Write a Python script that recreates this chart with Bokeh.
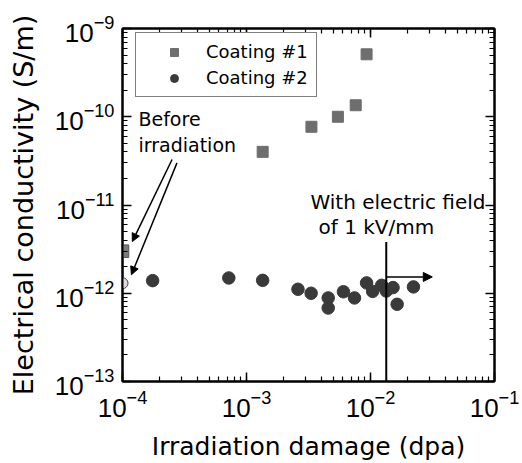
from bokeh.plotting import figure
from bokeh.models import LogAxis, Legend, LegendItem, Arrow, NormalHead, Label, LogTicker, Range1d
from bokeh.embed import file_html
from bokeh.resources import INLINE

# ---- data ----
c1_x = [1.35e-3, 3.34e-3, 5.46e-3, 7.6e-3, 9.3e-3]
c1_y = [4.0e-11, 7.7e-11, 1.0e-10, 1.35e-10, 5.1e-10]
c1_before_x = [1e-4]
c1_before_y = [3.0e-12]

c2_x = [1.75e-4, 7.2e-4, 1.35e-3, 2.6e-3, 3.32e-3, 4.56e-3, 4.56e-3, 6.05e-3,
        7.43e-3, 9.3e-3, 1.04e-2, 1.23e-2, 1.34e-2, 1.52e-2, 1.64e-2, 2.22e-2]
c2_y = [1.39e-12, 1.49e-12, 1.4e-12, 1.11e-12, 1.0e-12, 0.885e-12, 0.68e-12, 1.04e-12,
        0.885e-12, 1.31e-12, 1.05e-12, 1.23e-12, 1.06e-12, 1.16e-12, 0.75e-12, 1.18e-12]
c2_before_x = [1e-4]
c2_before_y = [1.3e-12]

field_x = 1.34e-2          # electric field applied from this dose on
field_line_y = [1e-13, 3.8e-12]
field_arrow_end_x = 3.15e-2
field_arrow_y = 1.53e-12

FONT = "DejaVu Sans"
TICKFONT = "Liberation Sans"

p = figure(width=522, height=463, x_axis_type="log", y_axis_type="log",
           x_range=Range1d(1e-4, 1e-1), y_range=Range1d(1e-13, 1e-9),
           output_backend="svg", toolbar_location=None,
           min_border_left=122, min_border_right=28, min_border_top=28, min_border_bottom=81)
p.grid.visible = False
p.outline_line_color = "black"
p.outline_line_width = 2
p.background_fill_color = "white"
p.border_fill_color = "white"

def style_axis(ax, show_labels=True):
    ax.axis_line_width = 2
    ax.axis_line_color = "black"
    ax.major_tick_in = 9
    ax.major_tick_out = 0
    ax.minor_tick_in = 5
    ax.minor_tick_out = 0
    ax.major_tick_line_width = 1.5
    ax.minor_tick_line_width = 1.2
    ax.major_tick_line_color = "black"
    ax.minor_tick_line_color = "black"
    ax.major_label_text_font = TICKFONT
    ax.major_label_text_font_size = "26px"
    ax.major_label_text_color = "black"
    if not show_labels:
        ax.major_label_text_font_size = "0px"
        ax.major_label_text_color = None
        ax.major_label_standoff = 0

for ax in p.xaxis:
    style_axis(ax)
    ax.axis_label = "Irradiation damage (dpa)"
    ax.axis_label_text_font = FONT
    ax.axis_label_text_font_size = "25px"
    ax.axis_label_text_font_style = "normal"
    ax.axis_label_text_color = "black"
    ax.major_label_standoff = 8
    ax.axis_label_standoff = 12
for ax in p.yaxis:
    style_axis(ax)
    ax.axis_label = "Electrical conductivity (S/m)"
    ax.axis_label_text_font = FONT
    ax.axis_label_text_font_size = "27px"
    ax.axis_label_text_font_style = "normal"
    ax.axis_label_text_color = "black"
    ax.major_label_standoff = 8
    ax.axis_label_standoff = 13

top = LogAxis(ticker=LogTicker(num_minor_ticks=10))
right = LogAxis(ticker=LogTicker(num_minor_ticks=10))
style_axis(top, False)
style_axis(right, False)
p.add_layout(top, "above")
p.add_layout(right, "right")

# ---- data marks ----
r1 = p.scatter(c1_x, c1_y, marker="square", size=11, fill_color="#6e6e6e", line_color="#6e6e6e")
r2 = p.scatter(c2_x, c2_y, marker="circle", size=12.5, fill_color="#3a3a3a", line_color="#3a3a3a")
p.scatter(c1_before_x, c1_before_y, marker="square", size=12.5, fill_color="#7c7c7c",
          line_color="#555555", line_width=1)
p.scatter(c2_before_x, c2_before_y, marker="circle", size=11, fill_color="#dcdcdc",
          line_color="#444444", line_width=1)

# ---- annotations ----
p.segment(x0=[field_x], y0=[field_line_y[0]], x1=[field_x], y1=[field_line_y[1]],
          line_color="black", line_width=2)
p.add_layout(Arrow(end=NormalHead(size=9, fill_color="black", line_color="black"),
                   x_start=field_x, y_start=field_arrow_y, x_end=field_arrow_end_x, y_end=field_arrow_y,
                   line_width=1.5, line_color="black"))
p.add_layout(Arrow(end=NormalHead(size=8, fill_color="black", line_color="black"),
                   x_start=2.51e-4, y_start=3.28e-11, x_end=1.2e-4, y_end=3.85e-12,
                   line_width=1.5, line_color="black"))
p.add_layout(Arrow(end=NormalHead(size=8, fill_color="black", line_color="black"),
                   x_start=2.75e-4, y_start=3.0e-11, x_end=1.18e-4, y_end=1.62e-12,
                   line_width=1.5, line_color="black"))

def lab(x, y, t, size):
    p.add_layout(Label(x=x, y=y, text=t, text_font=FONT, text_font_size=size,
                       text_baseline="middle", text_align="left", text_color="black"))

lab(1.345e-4, 9.4e-11, "Before", "19px")
lab(1.345e-4, 4.76e-11, "irradiation", "19px")
lab(3.28e-3, 1.08e-11, "With electric field", "20px")
lab(3.81e-3, 5.64e-12, "of 1 kV/mm", "20px")

legend = Legend(items=[LegendItem(label="Coating #1", renderers=[r1]),
                       LegendItem(label="Coating #2", renderers=[r2])],
                location=(13, 284), padding=8, spacing=5, glyph_width=60, glyph_height=20,
                label_height=20, label_standoff=2, label_text_font=FONT, label_text_font_size="18px",
                label_text_color="black",
                border_line_color="black", border_line_width=1.5, margin=0,
                background_fill_alpha=1)
p.add_layout(legend, "center")

open("out.html", "w").write(file_html(p, INLINE))
